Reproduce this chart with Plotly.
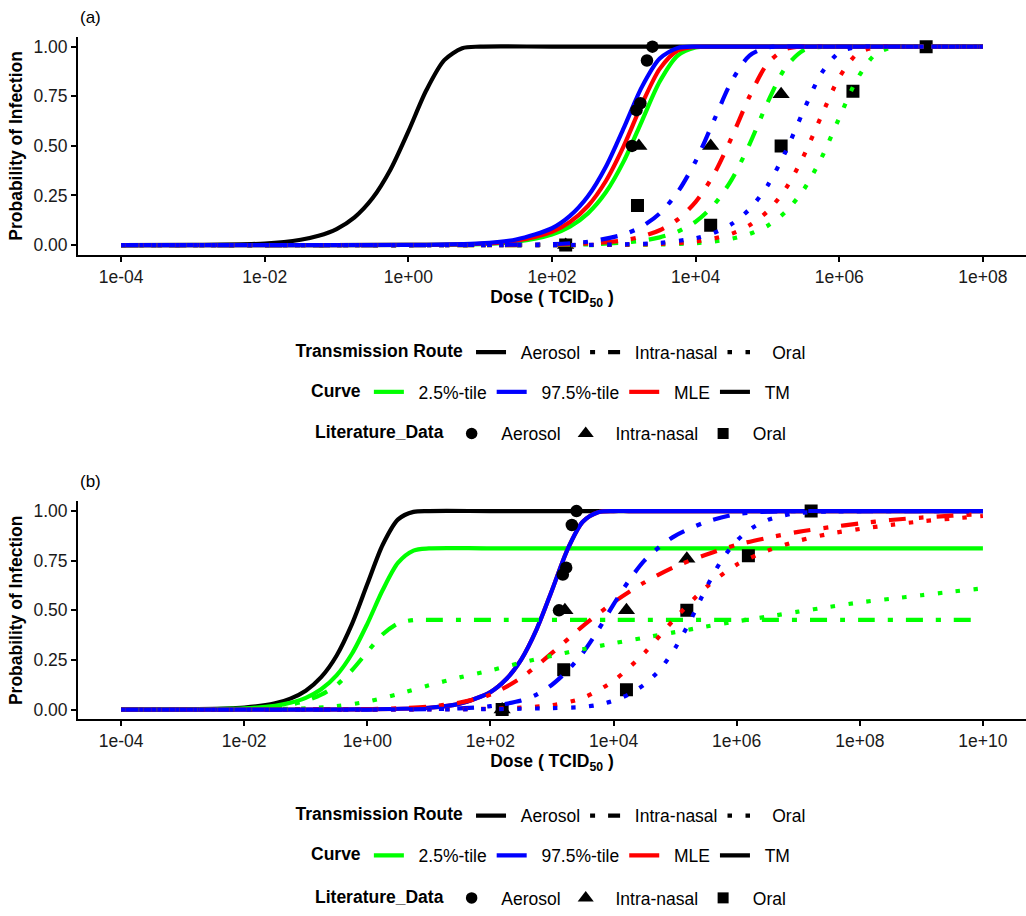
import plotly.graph_objects as go

# ---------------- DATA (log10 dose grids and probabilities) ----------------
# Panel (a)
A_TM_LOGDOSE = [-4, -3, -2, -1.5, -1.25, -1, -0.75, -0.5, -0.25, 0, 0.25, 0.5, 0.75, 1, 2, 4, 6, 8]
A_TM_P = [0.000, 0.001, 0.008, 0.027, 0.047, 0.081, 0.140, 0.236, 0.380, 0.573, 0.780, 0.932, 0.992, 1.0, 1.0, 1.0, 1.0, 1.0]

A_AER_LOGDOSE = [-4, -2, 0, 1, 1.5, 2, 2.25, 2.5, 2.75, 3, 3.25, 3.5, 3.75, 4, 4.25, 5, 6, 8]
A_AER_LOW = [0, 0, 0.001, 0.005, 0.017, 0.054, 0.093, 0.160, 0.266, 0.423, 0.624, 0.824, 0.955, 0.996, 1.0, 1.0, 1.0, 1.0]
A_AER_HIGH = [0, 0, 0.001, 0.009, 0.028, 0.085, 0.147, 0.246, 0.395, 0.591, 0.796, 0.940, 0.993, 1.0, 1.0, 1.0, 1.0, 1.0]
A_AER_MLE = [0, 0, 0.001, 0.007, 0.022, 0.067, 0.116, 0.197, 0.323, 0.500, 0.709, 0.888, 0.980, 0.999, 1.0, 1.0, 1.0, 1.0]

A_IN_LOGDOSE = [-4, -2, 0, 1, 2, 2.5, 3, 3.25, 3.5, 3.75, 4, 4.25, 4.5, 4.75, 5, 5.25, 5.5, 5.75, 6, 7, 8]
A_IN_LOW = [0, 0, 0, 0, 0.001, 0.004, 0.013, 0.022, 0.039, 0.068, 0.118, 0.201, 0.329, 0.508, 0.717, 0.894, 0.981, 0.999, 1.0, 1.0, 1.0]
A_IN_HIGH = [0, 0, 0, 0.001, 0.005, 0.017, 0.054, 0.093, 0.160, 0.267, 0.423, 0.624, 0.825, 0.955, 0.996, 1.0, 1.0, 1.0, 1.0, 1.0, 1.0]
A_IN_MLE = [0, 0, 0, 0, 0.002, 0.008, 0.024, 0.043, 0.075, 0.129, 0.218, 0.354, 0.541, 0.749, 0.914, 0.987, 1.0, 1.0, 1.0, 1.0, 1.0]

A_OR_LOGDOSE = [-4, -2, 0, 2, 3, 3.5, 4, 4.25, 4.5, 4.75, 5, 5.25, 5.5, 5.75, 6, 6.25, 6.5, 6.75, 7, 8]
A_OR_LOW = [0, 0, 0, 0, 0.001, 0.003, 0.010, 0.018, 0.032, 0.056, 0.097, 0.167, 0.277, 0.438, 0.641, 0.838, 0.961, 0.997, 1.0, 1.0]
A_OR_HIGH = [0, 0, 0, 0, 0.004, 0.011, 0.035, 0.061, 0.106, 0.181, 0.299, 0.469, 0.675, 0.865, 0.971, 0.998, 1.0, 1.0, 1.0, 1.0]
A_OR_MLE = [0, 0, 0, 0, 0.002, 0.006, 0.018, 0.033, 0.057, 0.100, 0.170, 0.282, 0.446, 0.650, 0.845, 0.964, 0.997, 1.0, 1.0, 1.0]

# Panel (b)
B_TM_LOGDOSE = [-4, -3, -2, -1.5, -1.25, -1, -0.75, -0.5, -0.25, 0, 0.25, 0.5, 0.75, 1, 2, 4, 6, 8, 10]
B_TM_P = [0.000, 0.001, 0.010, 0.031, 0.055, 0.095, 0.163, 0.271, 0.430, 0.632, 0.830, 0.958, 0.996, 1.0, 1.0, 1.0, 1.0, 1.0, 1.0]
B_AER_LOW = [0.000, 0.001, 0.006, 0.019, 0.034, 0.059, 0.102, 0.172, 0.281, 0.432, 0.602, 0.740, 0.801, 0.812, 0.812, 0.812, 0.812, 0.812, 0.812]
B_IN_LOW = [0.000, 0.000, 0.005, 0.014, 0.025, 0.044, 0.075, 0.123, 0.198, 0.290, 0.379, 0.434, 0.451, 0.452, 0.452, 0.452, 0.452, 0.452, 0.452]

B_AER_LOGDOSE = [-4, -2, 0, 1, 1.5, 2, 2.25, 2.5, 2.75, 3, 3.25, 3.5, 3.75, 4, 4.25, 5, 6, 8, 10]
B_AER_HIGH = [0, 0, 0.001, 0.009, 0.029, 0.088, 0.151, 0.252, 0.404, 0.601, 0.805, 0.946, 0.994, 1.0, 1.0, 1.0, 1.0, 1.0, 1.0]
B_AER_MLE = [0, 0, 0.001, 0.009, 0.029, 0.088, 0.151, 0.252, 0.404, 0.601, 0.805, 0.946, 0.994, 1.0, 1.0, 1.0, 1.0, 1.0, 1.0]

B_IN_HIGH_LOGDOSE = [-4, -2, 0, 1, 1.5, 2, 2.5, 2.75, 3, 3.25, 3.5, 3.75, 4, 4.25, 4.5, 4.75, 5, 5.5, 6, 6.5, 7, 8, 10]
B_IN_HIGH = [0, 0, 0, 0.002, 0.006, 0.017, 0.045, 0.075, 0.125, 0.195, 0.285, 0.40, 0.53, 0.65, 0.75, 0.82, 0.875, 0.945, 0.985, 0.997, 1.0, 1.0, 1.0]

B_IN_MLE_LOGDOSE = [-4, -2, 0, 0.5, 1, 1.5, 2, 2.5, 3, 3.5, 4, 4.5, 5, 5.5, 6, 6.5, 7, 7.5, 8, 8.5, 9, 9.5, 10]
B_IN_MLE = [0, 0, 0.002, 0.006, 0.015, 0.035, 0.075, 0.16, 0.285, 0.42, 0.54, 0.64, 0.72, 0.78, 0.83, 0.865, 0.895, 0.918, 0.938, 0.955, 0.967, 0.977, 0.985]

B_OR_LOW_LOGDOSE = [-4, -2, -1, -0.5, 0, 0.5, 1, 1.5, 2, 2.5, 3, 3.5, 4, 4.5, 5, 5.5, 6, 6.5, 7, 7.5, 8, 8.5, 9, 9.5, 10]
B_OR_LOW = [0, 0.001, 0.006, 0.017, 0.040, 0.078, 0.122, 0.162, 0.197, 0.236, 0.271, 0.304, 0.334, 0.362, 0.390, 0.418, 0.444, 0.468, 0.493, 0.517, 0.540, 0.558, 0.576, 0.594, 0.611]

B_OR_HIGH_LOGDOSE = [-4, -2, 0, 2, 2.5, 3, 3.5, 3.75, 4, 4.25, 4.5, 4.75, 5, 5.25, 5.5, 5.75, 6, 6.25, 6.5, 6.75, 7, 7.5, 8, 10]
B_OR_HIGH = [0, 0, 0, 0.002, 0.004, 0.007, 0.013, 0.024, 0.045, 0.077, 0.126, 0.20, 0.31, 0.45, 0.61, 0.75, 0.85, 0.915, 0.955, 0.977, 0.99, 0.998, 1.0, 1.0]

B_OR_MLE_LOGDOSE = [-4, -2, 0, 1, 1.5, 2, 2.5, 3, 3.5, 4, 4.5, 5, 5.5, 6, 6.5, 7, 7.5, 8, 8.5, 9, 9.5, 10]
B_OR_MLE = [0, 0, 0, 0.001, 0.002, 0.004, 0.010, 0.022, 0.058, 0.145, 0.285, 0.46, 0.615, 0.73, 0.80, 0.85, 0.885, 0.91, 0.93, 0.948, 0.962, 0.975]

# Literature data (same in both panels)
LIT_AEROSOL_DOSE = [2500, 2100, 1700, 1500, 1300]
LIT_AEROSOL_P = [1.0, 0.93, 0.715, 0.68, 0.5]
LIT_INTRANASAL_DOSE = [155, 1620, 16200, 155000]
LIT_INTRANASAL_P = [0.0, 0.5, 0.5, 0.76]
LIT_ORAL_DOSE = [155, 1550, 16200, 155000, 1550000, 16200000]
LIT_ORAL_P = [0.0, 0.2, 0.1, 0.5, 0.775, 1.0]

A_XTICKS = [1e-4, 1e-2, 1e0, 1e2, 1e4, 1e6, 1e8]
A_XTICK_TEXT = ["1e-04", "1e-02", "1e+00", "1e+02", "1e+04", "1e+06", "1e+08"]
B_XTICKS = [1e-4, 1e-2, 1e0, 1e2, 1e4, 1e6, 1e8, 1e10]
B_XTICK_TEXT = ["1e-04", "1e-02", "1e+00", "1e+02", "1e+04", "1e+06", "1e+08", "1e+10"]
YTICKS = [0, 0.25, 0.5, 0.75, 1.0]
YTICK_TEXT = ["0.00", "0.25", "0.50", "0.75", "1.00"]

ROUTES = ["Aerosol", "Intra-nasal", "Oral"]
CURVES = ["2.5%-tile", "97.5%-tile", "MLE", "TM"]

# ---------------- STYLE ----------------
GREEN, BLUE, RED, BLACK = "#00FF00", "#0000FF", "#FF0000", "#000000"
LW = 4.2
DASH = {"Aerosol": "solid", "Intra-nasal": "17px,13px,5px,13px", "Oral": "4.5px,13.5px"}
LEG_DASH = {"Aerosol": "solid", "Intra-nasal": "5px,13px,12px,60px", "Oral": "4.5px,13.5px"}
FONT = "Liberation Sans, Arial, sans-serif"
FS = 17.5
PAD = "\u00a0\u00a0"  # small gap between legend key and label

fig = go.Figure()


def dose(logs):
    return [10 ** v for v in logs]


def curve(logs, p, color, route, xa, ya):
    fig.add_trace(go.Scatter(
        x=dose(logs), y=p, mode="lines", showlegend=False, hoverinfo="skip",
        line=dict(color=color, width=LW, dash=DASH[route], shape="spline", smoothing=0.8),
        xaxis=xa, yaxis=ya))


def points(xa, ya):
    for d, p, sym, sz in [(LIT_AEROSOL_DOSE, LIT_AEROSOL_P, "circle", 12.5),
                          (LIT_INTRANASAL_DOSE, LIT_INTRANASAL_P, "triangle-up", 15),
                          (LIT_ORAL_DOSE, LIT_ORAL_P, "square", 13)]:
        fig.add_trace(go.Scatter(x=d, y=p, mode="markers", showlegend=False,
                                 marker=dict(symbol=sym, size=sz, color=BLACK),
                                 xaxis=xa, yaxis=ya))


# Panel (a)
curve(A_TM_LOGDOSE, A_TM_P, BLACK, "Aerosol", "x", "y")
curve(A_AER_LOGDOSE, A_AER_LOW, GREEN, "Aerosol", "x", "y")
curve(A_AER_LOGDOSE, A_AER_MLE, RED, "Aerosol", "x", "y")
curve(A_AER_LOGDOSE, A_AER_HIGH, BLUE, "Aerosol", "x", "y")
points("x", "y")
curve(A_IN_LOGDOSE, A_IN_LOW, GREEN, "Intra-nasal", "x", "y")
curve(A_IN_LOGDOSE, A_IN_MLE, RED, "Intra-nasal", "x", "y")
curve(A_IN_LOGDOSE, A_IN_HIGH, BLUE, "Intra-nasal", "x", "y")
curve(A_OR_LOGDOSE, A_OR_LOW, GREEN, "Oral", "x", "y")
curve(A_OR_LOGDOSE, A_OR_MLE, RED, "Oral", "x", "y")
curve(A_OR_LOGDOSE, A_OR_HIGH, BLUE, "Oral", "x", "y")

# Panel (b)
curve(B_TM_LOGDOSE, B_TM_P, BLACK, "Aerosol", "x2", "y2")
curve(B_TM_LOGDOSE, B_AER_LOW, GREEN, "Aerosol", "x2", "y2")
curve(B_AER_LOGDOSE, B_AER_MLE, RED, "Aerosol", "x2", "y2")
curve(B_AER_LOGDOSE, B_AER_HIGH, BLUE, "Aerosol", "x2", "y2")
points("x2", "y2")
curve(B_TM_LOGDOSE, B_IN_LOW, GREEN, "Intra-nasal", "x2", "y2")
curve(B_IN_MLE_LOGDOSE, B_IN_MLE, RED, "Intra-nasal", "x2", "y2")
curve(B_IN_HIGH_LOGDOSE, B_IN_HIGH, BLUE, "Intra-nasal", "x2", "y2")
curve(B_OR_LOW_LOGDOSE, B_OR_LOW, GREEN, "Oral", "x2", "y2")
curve(B_OR_MLE_LOGDOSE, B_OR_MLE, RED, "Oral", "x2", "y2")
curve(B_OR_HIGH_LOGDOSE, B_OR_HIGH, BLUE, "Oral", "x2", "y2")

# Legend entries (three legends per panel)
CURVE_COLORS = [GREEN, BLUE, RED, BLACK]
for leg_route, leg_curve, leg_lit, xa, ya in [("legend", "legend2", "legend3", "x", "y"),
                                              ("legend4", "legend5", "legend6", "x2", "y2")]:
    for r in ROUTES:
        fig.add_trace(go.Scatter(x=[None], y=[None], mode="lines", name=PAD + r, legend=leg_route,
                                 line=dict(color=BLACK, width=LW, dash=LEG_DASH[r]), xaxis=xa, yaxis=ya))
    for c, col in zip(CURVES, CURVE_COLORS):
        fig.add_trace(go.Scatter(x=[None], y=[None], mode="lines", name=PAD + c, legend=leg_curve,
                                 line=dict(color=col, width=LW), xaxis=xa, yaxis=ya))
    for r, sym, sz in zip(ROUTES, ["circle", "triangle-up", "square"], [11.5, 14, 11]):
        fig.add_trace(go.Scatter(x=[None], y=[None], mode="markers", name=PAD + r, legend=leg_lit,
                                 marker=dict(symbol=sym, size=sz, color=BLACK), xaxis=xa, yaxis=ya))

H = 916.0


def py(px):
    return 1 - px / H


def legend_cfg(title, ypx):
    return dict(orientation="h", x=0.5, xanchor="center", y=py(ypx), yanchor="middle",
                title=dict(text="<b>%s</b>" % title, side="left", font=dict(size=FS)),
                font=dict(size=FS, family=FONT, color=BLACK), bgcolor="rgba(0,0,0,0)",
                traceorder="normal", itemsizing="trace", tracegroupgap=0)


axis_common = dict(showline=True, linecolor=BLACK, linewidth=2, ticks="outside", ticklen=5,
                   tickwidth=1.5, tickcolor=BLACK, showgrid=False, zeroline=False,
                   tickfont=dict(size=FS, family=FONT, color="#1a1a1a"))

fig.update_layout(
    width=1026, height=916,
    margin=dict(l=78, r=0, t=0, b=0),
    paper_bgcolor="white", plot_bgcolor="white",
    font=dict(family=FONT, size=FS, color=BLACK),
    xaxis=dict(type="log", range=[-4.6, 8.6], domain=[0, 1], anchor="y",
               tickvals=A_XTICKS, ticktext=A_XTICK_TEXT,
               title=dict(text="<b>Dose ( TCID<sub>50</sub> )</b>", standoff=4, font=dict(size=FS)),
               **axis_common),
    yaxis=dict(range=[-0.05, 1.05], domain=[py(257), py(37)], anchor="x",
               tickvals=YTICKS, ticktext=YTICK_TEXT,
               title=dict(text="<b>Probability of Infection</b>", standoff=6, font=dict(size=FS)),
               **axis_common),
    xaxis2=dict(type="log", range=[-4.7, 10.7], domain=[0, 1], anchor="y2",
                tickvals=B_XTICKS, ticktext=B_XTICK_TEXT,
                title=dict(text="<b>Dose ( TCID<sub>50</sub> )</b>", standoff=4, font=dict(size=FS)),
                **axis_common),
    yaxis2=dict(range=[-0.05, 1.05], domain=[py(725), py(505)], anchor="x2",
                tickvals=YTICKS, ticktext=YTICK_TEXT,
                title=dict(text="<b>Probability of Infection</b>", standoff=6, font=dict(size=FS)),
                **axis_common),
    legend=legend_cfg("Transmission Route", 355),
    legend2=legend_cfg("Curve", 395),
    legend3=legend_cfg("Literature_Data", 437),
    legend4=legend_cfg("Transmission Route", 822),
    legend5=legend_cfg("Curve", 862),
    legend6=legend_cfg("Literature_Data", 905),
    annotations=[
        dict(text="(a)", x=0, y=py(18), xref="paper", yref="paper", xanchor="left", yanchor="middle",
             showarrow=False, font=dict(size=17, family=FONT, color=BLACK)),
        dict(text="(b)", x=0, y=py(485), xref="paper", yref="paper", xanchor="left", yanchor="middle",
             showarrow=False, font=dict(size=17, family=FONT, color=BLACK)),
    ],
)

fig.write_html("out.html")
